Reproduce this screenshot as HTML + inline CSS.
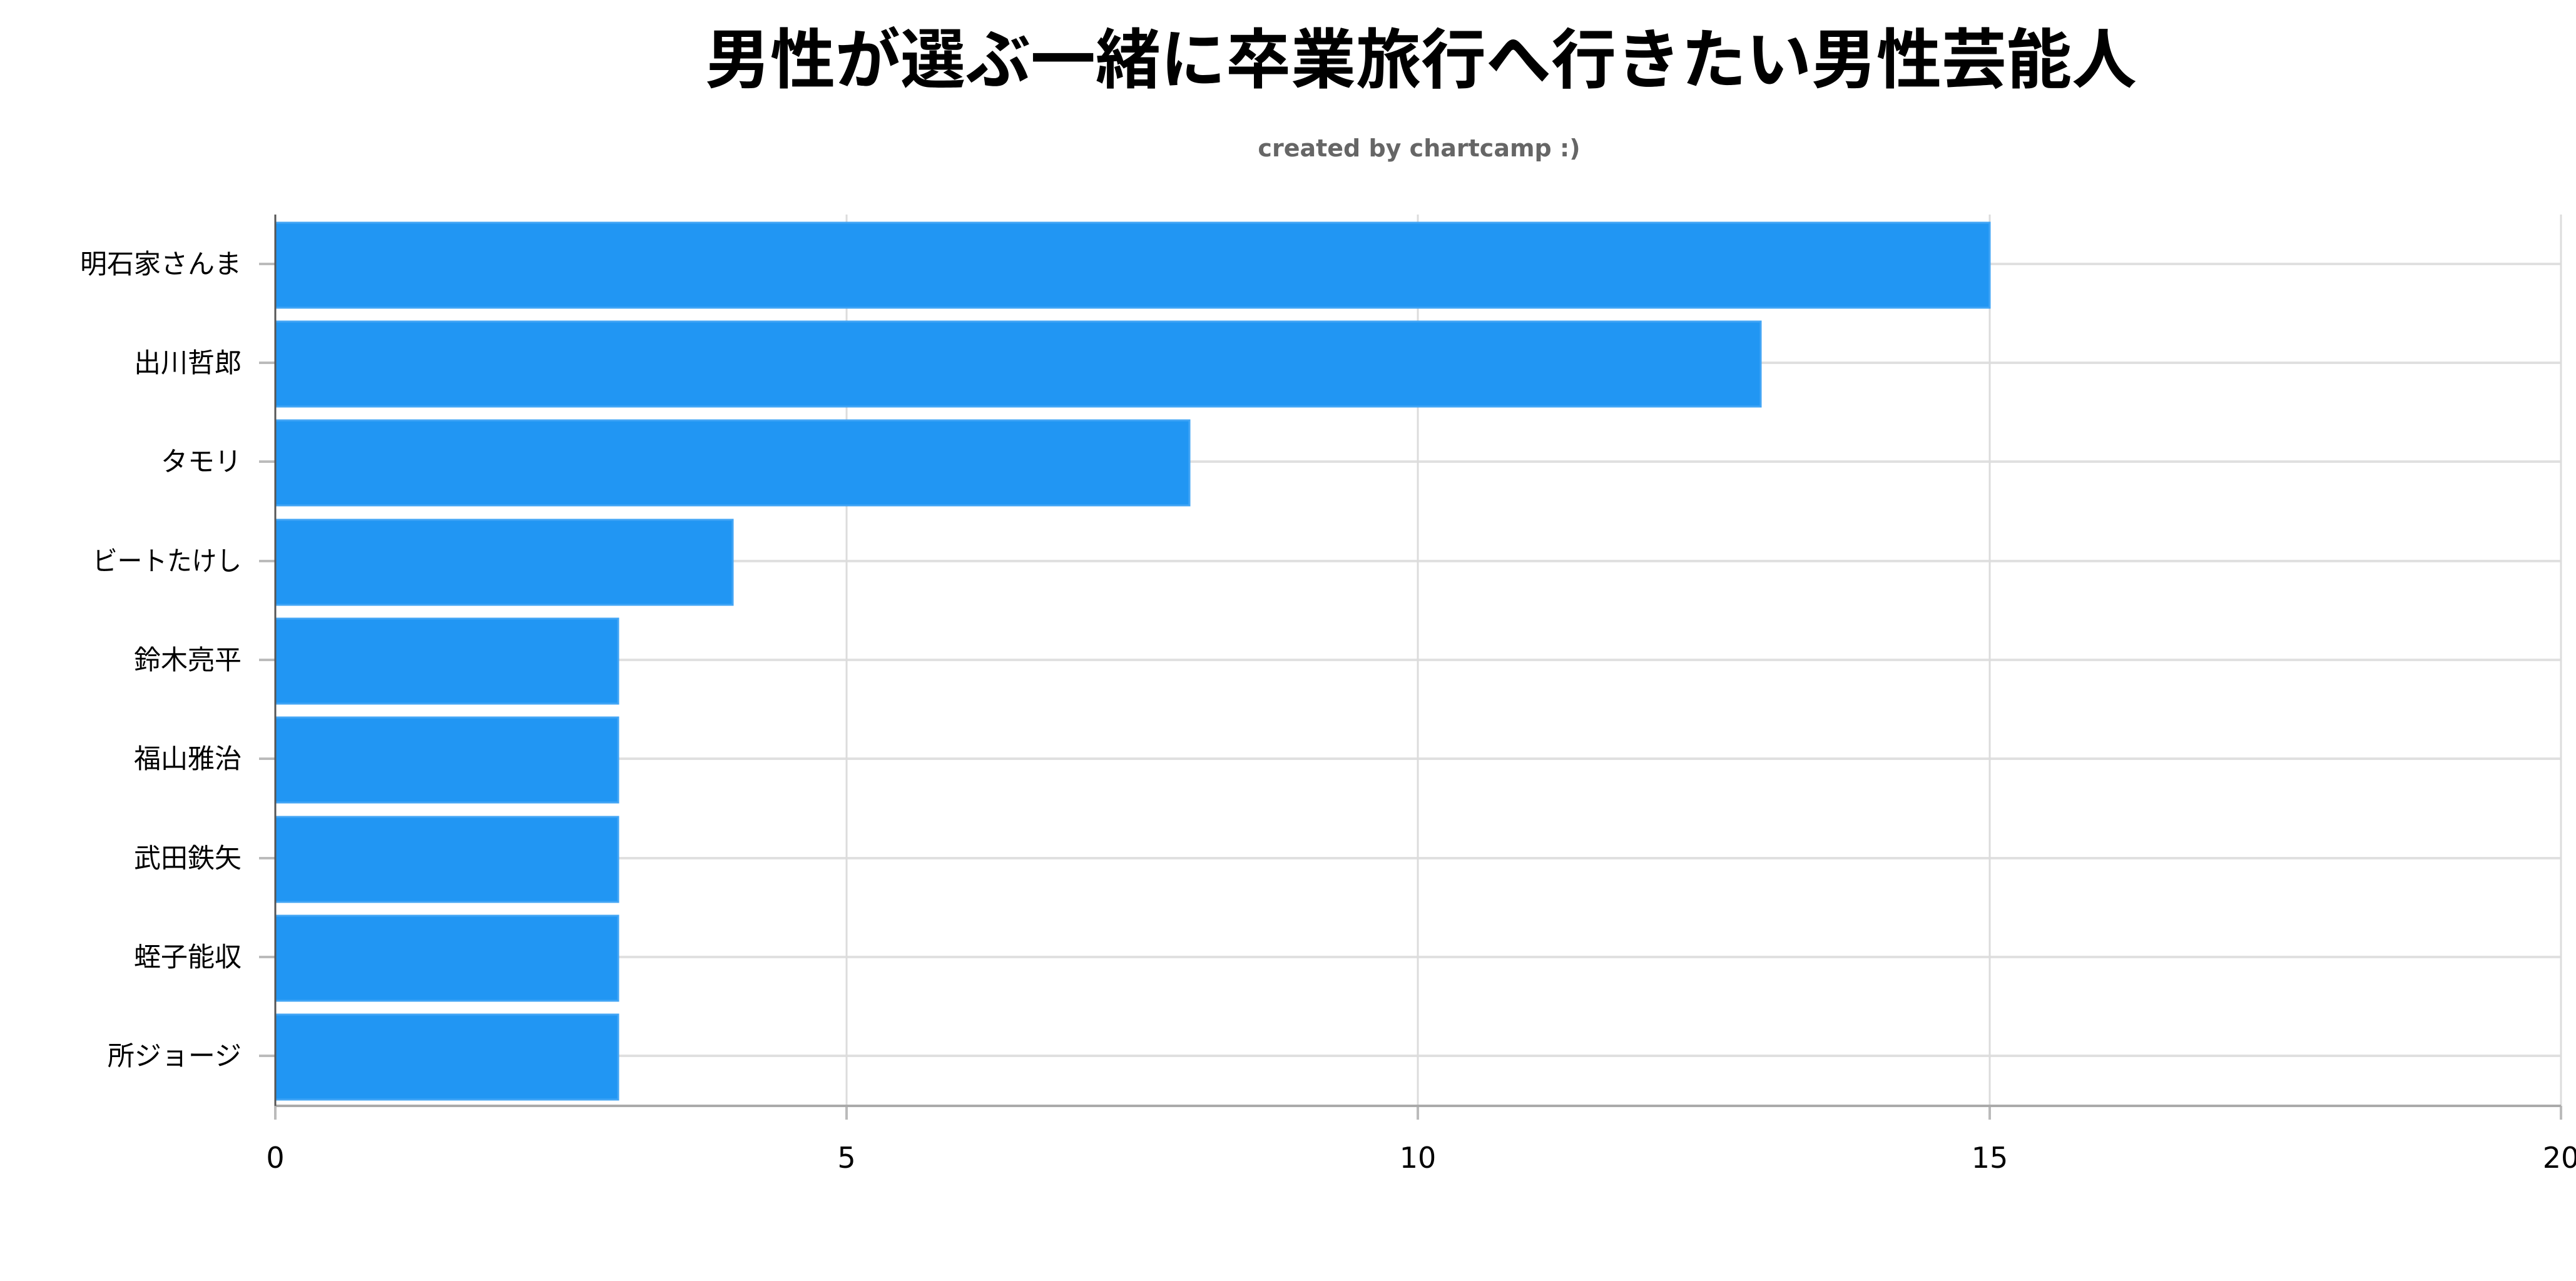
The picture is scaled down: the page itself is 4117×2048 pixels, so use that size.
<!DOCTYPE html>
<html><head><meta charset="utf-8"><style>
html,body{margin:0;padding:0;background:#fff;}
svg{display:block;}
</style></head><body>
<svg width="4117" height="2048" viewBox="0 0 4117 2048" xmlns="http://www.w3.org/2000/svg">
<rect width="4117" height="2048" fill="#fff"/>
<text x="2271" y="132" text-anchor="middle" font-family="'Liberation Sans','Noto Sans CJK JP',sans-serif" font-weight="bold" font-size="104" fill="#000">男性が選ぶ一緒に卒業旅行へ行きたい男性芸能人</text>
<text x="2268" y="250" text-anchor="middle" font-family="'DejaVu Sans','Liberation Sans',sans-serif" font-weight="bold" font-size="38" fill="#666">created by chartcamp :)</text>
<g stroke="#e0e0e0" stroke-width="4">
<line x1="440" y1="422" x2="4093" y2="422"/>
<line x1="440" y1="580" x2="4093" y2="580"/>
<line x1="440" y1="738" x2="4093" y2="738"/>
<line x1="440" y1="897" x2="4093" y2="897"/>
<line x1="440" y1="1055" x2="4093" y2="1055"/>
<line x1="440" y1="1213" x2="4093" y2="1213"/>
<line x1="440" y1="1372" x2="4093" y2="1372"/>
<line x1="440" y1="1530" x2="4093" y2="1530"/>
<line x1="440" y1="1688" x2="4093" y2="1688"/>
</g>
<g stroke="#dcdcdc" stroke-width="3">
<line x1="1353" y1="343" x2="1353" y2="1768"/>
<line x1="2266" y1="343" x2="2266" y2="1768"/>
<line x1="3180" y1="343" x2="3180" y2="1768"/>
<line x1="4093" y1="343" x2="4093" y2="1768"/>
</g>
<g stroke="#bbb" stroke-width="4">
<line x1="414" y1="422" x2="440" y2="422"/>
<line x1="414" y1="580" x2="440" y2="580"/>
<line x1="414" y1="738" x2="440" y2="738"/>
<line x1="414" y1="897" x2="440" y2="897"/>
<line x1="414" y1="1055" x2="440" y2="1055"/>
<line x1="414" y1="1213" x2="440" y2="1213"/>
<line x1="414" y1="1372" x2="440" y2="1372"/>
<line x1="414" y1="1530" x2="440" y2="1530"/>
<line x1="414" y1="1688" x2="440" y2="1688"/>
<line x1="440" y1="1768" x2="440" y2="1790"/>
<line x1="1353" y1="1768" x2="1353" y2="1790"/>
<line x1="2266" y1="1768" x2="2266" y2="1790"/>
<line x1="3180" y1="1768" x2="3180" y2="1790"/>
<line x1="4093" y1="1768" x2="4093" y2="1790"/>
</g>
<g fill="#2196f3" stroke="#42a5f5" stroke-width="3">
<rect x="440" y="356" width="2740" height="136"/>
<rect x="440" y="514" width="2374" height="136"/>
<rect x="440" y="672" width="1461" height="136"/>
<rect x="440" y="831" width="731" height="136"/>
<rect x="440" y="989" width="548" height="136"/>
<rect x="440" y="1147" width="548" height="136"/>
<rect x="440" y="1306" width="548" height="136"/>
<rect x="440" y="1464" width="548" height="136"/>
<rect x="440" y="1622" width="548" height="136"/>
</g>
<line x1="440" y1="1768" x2="4093" y2="1768" stroke="#aaa" stroke-width="4"/>
<line x1="440" y1="343" x2="440" y2="1768" stroke="#555" stroke-width="3"/>
<g font-family="'Liberation Sans','Noto Sans CJK JP',sans-serif" font-size="43" fill="#000" text-anchor="end">
<text x="386" y="437">明石家さんま</text>
<text x="386" y="595">出川哲郎</text>
<text x="386" y="753">タモリ</text>
<text x="386" y="912" textLength="238" lengthAdjust="spacingAndGlyphs">ビートたけし</text>
<text x="386" y="1070">鈴木亮平</text>
<text x="386" y="1228">福山雅治</text>
<text x="386" y="1387">武田鉄矢</text>
<text x="386" y="1545">蛭子能収</text>
<text x="386" y="1703">所ジョージ</text>
</g>
<g font-family="'DejaVu Sans','Liberation Sans',sans-serif" font-size="46" fill="#000" text-anchor="middle">
<text x="440" y="1867">0</text>
<text x="1353" y="1867">5</text>
<text x="2266" y="1867">10</text>
<text x="3180" y="1867">15</text>
<text x="4093" y="1867">20</text>
</g>
</svg>
</body></html>
